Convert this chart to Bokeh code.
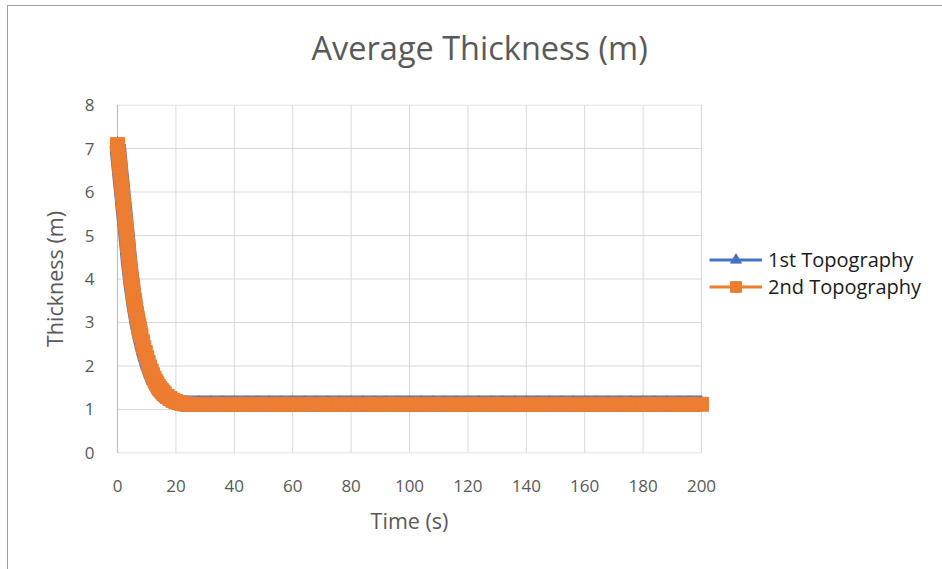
from bokeh.plotting import figure
from bokeh.models import FixedTicker, Legend, LegendItem, ColumnDataSource
from bokeh.layouts import column
from bokeh.embed import file_html
from bokeh.resources import INLINE

# ---- data ----
time_s = [0, 0.25, 0.5, 0.75, 1, 1.25, 1.5, 1.75, 2, 2.25, 2.5, 2.75, 3, 3.25, 3.5, 3.75,
          4, 4.25, 4.5, 4.75, 5, 5.25, 5.5, 5.75, 6, 6.25, 6.5, 6.75, 7, 7.25, 7.5, 7.75,
          8, 8.5, 9, 9.5, 10, 10.5, 11, 11.5, 12, 12.5, 13, 13.5, 14, 14.5, 15, 15.5,
          16, 17, 18, 19, 20, 21, 22, 23, 24,
          28, 32, 36, 40, 44, 48, 52, 56, 60, 64, 68, 72, 76, 80, 84, 88, 92, 96, 100,
          104, 108, 112, 116, 120, 124, 128, 132, 136, 140, 144, 148, 152, 156, 160,
          164, 168, 172, 176, 180, 184, 188, 192, 196, 200]

topo1 = [7.09, 6.92, 6.75, 6.58, 6.41, 6.25, 6.08, 5.91, 5.74, 5.58, 5.41, 5.25, 5.08, 4.91, 4.73, 4.55,
         4.37, 4.23, 4.09, 3.95, 3.82, 3.70, 3.57, 3.46, 3.35, 3.25, 3.15, 3.05, 2.96, 2.88, 2.80, 2.72,
         2.64, 2.50, 2.36, 2.24, 2.12, 2.01, 1.92, 1.83, 1.74, 1.67, 1.60, 1.54, 1.48, 1.44, 1.40, 1.36,
         1.32, 1.27, 1.23, 1.20, 1.17, 1.15, 1.14, 1.13, 1.13,
         1.13, 1.13, 1.13, 1.13, 1.13, 1.13, 1.13, 1.13, 1.13, 1.13, 1.13, 1.13, 1.13, 1.13, 1.13,
         1.13, 1.13, 1.13, 1.13, 1.13, 1.13, 1.13, 1.13, 1.13, 1.13, 1.13, 1.13, 1.13, 1.13, 1.13,
         1.13, 1.13, 1.13, 1.13, 1.13, 1.13, 1.13, 1.13, 1.13, 1.13, 1.13, 1.13, 1.13, 1.13]

topo2 = [7.09, 6.92, 6.75, 6.59, 6.42, 6.26, 6.09, 5.93, 5.76, 5.60, 5.43, 5.27, 5.10, 4.93, 4.76, 4.58,
         4.40, 4.26, 4.12, 3.99, 3.86, 3.74, 3.62, 3.51, 3.40, 3.30, 3.20, 3.11, 3.02, 2.94, 2.86, 2.78,
         2.70, 2.56, 2.43, 2.31, 2.19, 2.08, 1.98, 1.89, 1.80, 1.72, 1.65, 1.59, 1.53, 1.48, 1.44, 1.40,
         1.36, 1.30, 1.25, 1.21, 1.18, 1.16, 1.14, 1.13, 1.12,
         1.12, 1.12, 1.12, 1.12, 1.12, 1.12, 1.12, 1.12, 1.12, 1.12, 1.12, 1.12, 1.12, 1.12, 1.12,
         1.12, 1.12, 1.12, 1.12, 1.12, 1.12, 1.12, 1.12, 1.12, 1.12, 1.12, 1.12, 1.12, 1.12, 1.12,
         1.12, 1.12, 1.12, 1.12, 1.12, 1.12, 1.12, 1.12, 1.12, 1.12, 1.12, 1.12, 1.12, 1.12]

x_ticks = [0, 20, 40, 60, 80, 100, 120, 140, 160, 180, 200]
y_ticks = [0, 1, 2, 3, 4, 5, 6, 7, 8]
series_names = ["1st Topography", "2nd Topography"]
title_text = "Average Thickness (m)"
x_title = "Time (s)"
y_title = "Thickness (m)"

FONT = "Open Sans"
GREY = "#595959"
BLUE = "#4472c4"
ORANGE = "#ed7d31"
GRID = "#d9d9d9"

x_lo, x_hi = x_ticks[0], x_ticks[-1]
y_lo, y_hi = y_ticks[0], y_ticks[-1]

p = figure(frame_width=600, frame_height=349, x_range=(x_lo - 2.74, x_hi + 2.74),
           y_range=(y_lo - 0.012, y_hi + 0.012),
           output_backend="svg", toolbar_location=None,
           min_border_left=101, min_border_right=225,
           min_border_top=110, min_border_bottom=116)
p.margin = (-18, 0, 0, 0)
p.outline_line_color = None
p.border_fill_color = None
p.xgrid.visible = False
p.ygrid.visible = False

p.title.text = title_text
p.title.align = "left"
p.title.offset = 202
p.title.standoff = 69
p.title.text_font = FONT
p.title.text_font_size = "32.5px"
p.title.text_font_style = "normal"
p.title.text_color = GREY

for ax in (p.xaxis[0], p.yaxis[0]):
    ax.major_tick_in = 0
    ax.major_tick_out = 0
    ax.minor_tick_in = 0
    ax.minor_tick_out = 0
    ax.axis_line_color = None
    ax.major_label_text_font = FONT
    ax.major_label_text_font_size = "17px"
    ax.major_label_text_color = GREY
    ax.axis_label_text_font = FONT
    ax.axis_label_text_font_size = "21.5px"
    ax.axis_label_text_color = GREY
    ax.axis_label_text_font_style = "normal"

p.xaxis.ticker = FixedTicker(ticks=x_ticks)
p.yaxis.ticker = FixedTicker(ticks=y_ticks)
p.xaxis.axis_label = x_title
p.yaxis.axis_label = y_title
p.xaxis.major_label_standoff = 26
p.yaxis.major_label_standoff = 15
p.xaxis.axis_label_standoff = 11
p.yaxis.axis_label_standoff = 13

# gridlines limited to the 0..200 / 0..8 box
p.segment(x0=x_ticks, x1=x_ticks, y0=[y_lo] * len(x_ticks), y1=[y_hi] * len(x_ticks),
          line_color=GRID, line_width=1)
p.segment(x0=[x_lo] * len(y_ticks), x1=[x_hi] * len(y_ticks), y0=y_ticks, y1=y_ticks,
          line_color=GRID, line_width=1)
p.segment(x0=[x_lo], x1=[x_lo], y0=[y_lo], y1=[y_hi], line_color="#bfbfbf", line_width=1.2)

src = ColumnDataSource(dict(t=time_s, a=topo1, b=topo2))

# dense run of blue markers, drawn as a wide band underneath the orange one
p.line("t", "a", source=src, line_color=BLUE, line_width=16.5, line_join="round")
l1 = p.line("t", "a", source=src, line_color=BLUE, line_width=3)
m1 = p.scatter("t", "a", source=src, marker="triangle", size=14,
               fill_color=BLUE, line_color=BLUE)
l2 = p.line("t", "b", source=src, line_color=ORANGE, line_width=3)
m2 = p.scatter("t", "b", source=src, marker="square", size=14,
               fill_color=ORANGE, line_color=ORANGE)

legend = Legend(items=[LegendItem(label=series_names[0], renderers=[l1, m1]),
                       LegendItem(label=series_names[1], renderers=[l2, m2]),
                       LegendItem(label=" ", renderers=[])],
                location="left", orientation="vertical")
legend.title = " "
legend.title_text_font_size = "1px"
legend.title_standoff = 14
legend.border_line_color = None
legend.background_fill_alpha = 0
legend.padding = 0
legend.margin = 0
legend.spacing = 0
legend.glyph_width = 53
legend.glyph_height = 27
legend.label_height = 21
legend.label_standoff = 6
legend.label_text_font = FONT
legend.label_text_font_size = "20px"
legend.label_text_color = "#1a1a1a"
p.add_layout(legend, "right")

layout = column(p, styles={"border-left": "1px solid #a0a0a0",
                           "border-top": "1px solid #a0a0a0",
                           "margin-left": "7px", "margin-top": "5px"})

open("out.html", "w").write(file_html(layout, INLINE))
